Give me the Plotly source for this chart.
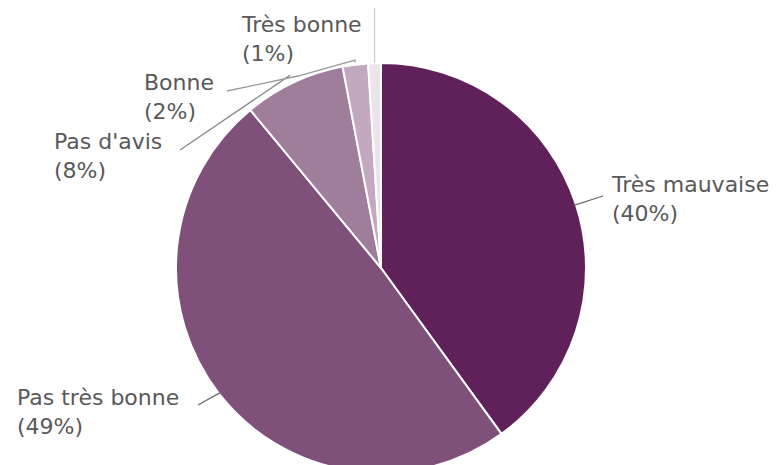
import math
import plotly.graph_objects as go

labels = ["Très mauvaise", "Pas très bonne", "Pas d'avis", "Bonne", "Très bonne"]
values = [40, 49, 8, 2, 1]
colors = ["#60205a", "#7f5079", "#9e7e9b", "#c3a9c0", "#ece4eb"]

W, H = 780, 465
OFF = 8  # page offset of the figure on screen (body margin)

# pie domain in paper coords (margins are zero so paper == full figure)
dom_x = [0.0, 746 / W]
dom_y = [0.0, 1 - 55 / H]

fig = go.Figure(go.Pie(
    labels=labels, values=values, sort=False, direction="clockwise", rotation=0,
    marker=dict(colors=colors, line=dict(color="#ffffff", width=2)),
    textinfo="none", hoverinfo="label+percent", showlegend=False,
    domain=dict(x=dom_x, y=dom_y),
))

# pie geometry (figure pixels) derived from the domain
cx = (dom_x[0] + dom_x[1]) / 2 * W
cy = (1 - (dom_y[0] + dom_y[1]) / 2) * H
R = min((dom_x[1] - dom_x[0]) * W, (dom_y[1] - dom_y[0]) * H) / 2

total = sum(values)
mids = []
acc = 0
for v in values:
    mids.append((acc + v / 2) / total * 2 * math.pi)
    acc += v


def edge(i, k=1.0):
    """point on the pie rim at the slice mid-angle, in screen pixels"""
    a = mids[i]
    return (cx + R * k * math.sin(a) + OFF, cy - R * k * math.cos(a) + OFF)


def px(x, y):
    """screen pixels -> paper coords"""
    return (x - OFF) / W, 1 - (y - OFF) / H


text_pos = {  # text left x, block-centre y (screen pixels)
    0: (609, 199),
    1: (15, 412),
    2: (52, 156),
    3: (142, 97),
    4: (239, 39),
}

annotations = []
for i, (lx, ly) in text_pos.items():
    x, y = px(lx, ly)
    annotations.append(dict(
        x=x, y=y, xref="paper", yref="paper", xanchor="left", yanchor="middle",
        align="left", showarrow=False,
        text=f"{labels[i]}<br>({values[i]}%)",
        font=dict(family="DejaVu Sans, Liberation Sans, Arial", size=22, color="#595959"),
    ))

leader_color = "#6a6a6a"
paths = [
    (leader_color, [edge(0, 0.99), (603, 196)]),
    (leader_color, [edge(1, 0.99), (198, 405)]),
    ("#8a8a8a", [(180, 150), edge(2, 1.04)]),
    ("#9a9a9a", [(227, 91), (298, 76), (355, 60), edge(3, 1.01)]),
    ("#cfcfcf", [(edge(4, 1.0)[0], 6), edge(4, 1.0)]),
]
shapes = []
for col, pts in paths:
    d = "M " + " L ".join(f"{px(x, y)[0]:.5f},{px(x, y)[1]:.5f}" for x, y in pts)
    shapes.append(dict(type="path", path=d, xref="paper", yref="paper",
                       line=dict(color=col, width=1.3)))

fig.update_layout(
    width=W, height=H, margin=dict(l=0, r=0, t=0, b=0),
    paper_bgcolor="#ffffff", plot_bgcolor="#ffffff",
    annotations=annotations, shapes=shapes,
)
fig.write_html("out.html")
